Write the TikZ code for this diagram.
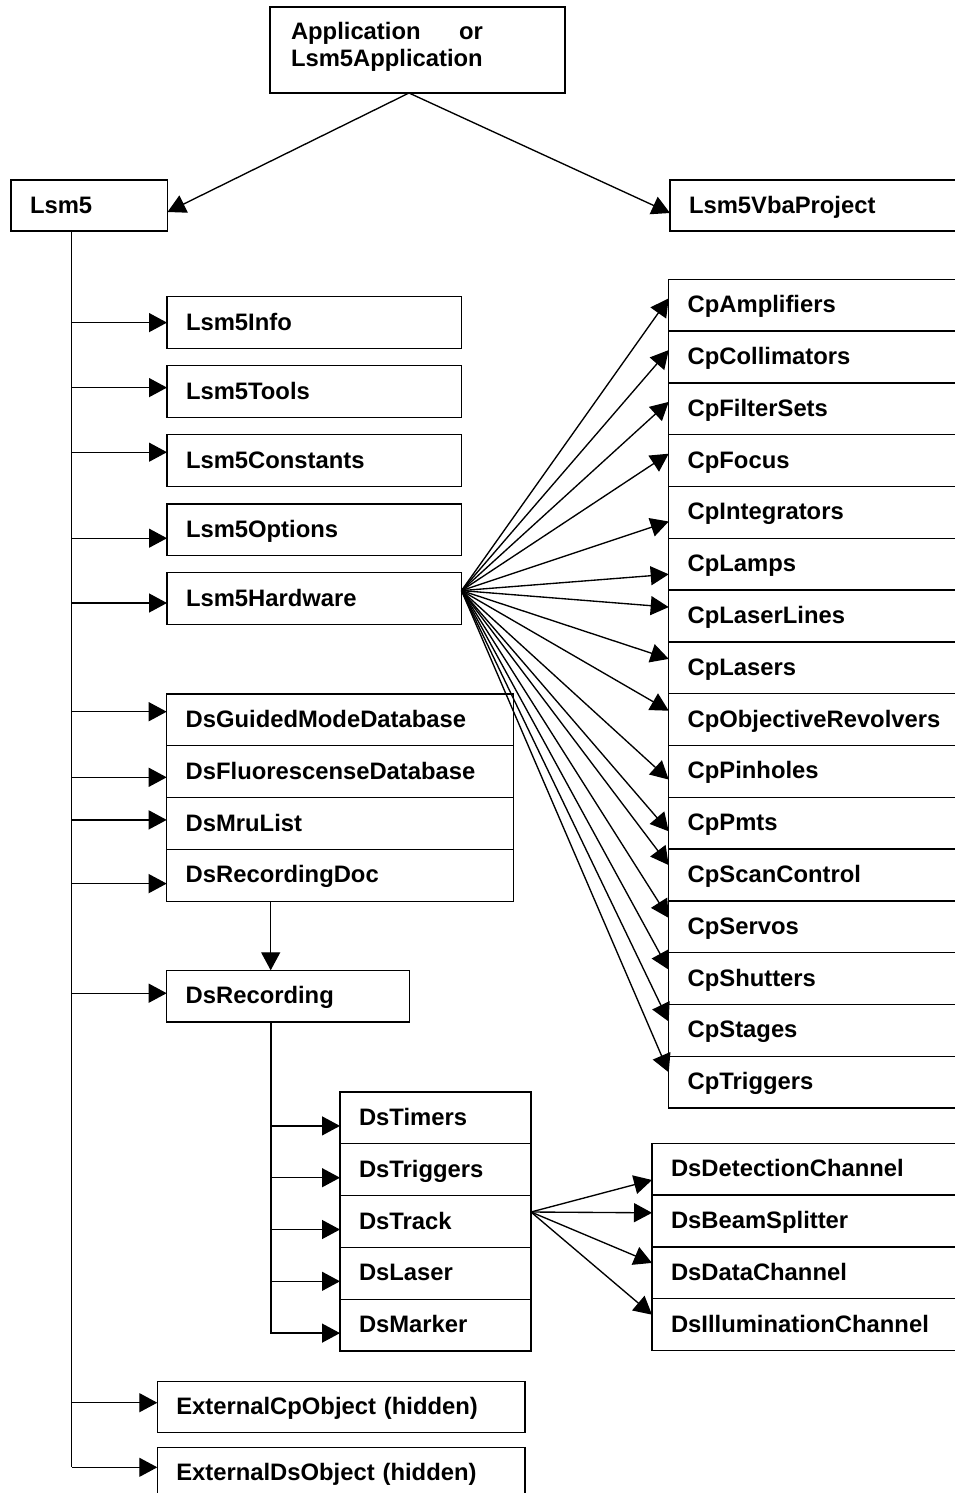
\documentclass[tikz,border=0pt]{standalone}
\usepackage{fontspec}
\setmainfont{Liberation Sans}
\usetikzlibrary{arrows.meta}
\tikzset{
  bx/.style={draw, line width=1.3pt, anchor=north west, outer sep=0pt,
    inner xsep=19pt, inner ysep=0pt, align=left, text width=#1,
    minimum height=51.8pt, text height=20pt, text depth=5pt,
    font=\fontsize{23.8}{27.5}\selectfont\bfseries},
  arr/.style={-{Triangle[length=18pt,width=19pt]}, line width=1.35pt},
  ln/.style={line width=1.35pt}
}
\begin{document}
\begin{tikzpicture}[x=1pt,y=-1pt]
\clip (0,0) rectangle (955,1493);
\fill[white] (0,0) rectangle (955,1493);
% top
\node[bx=253pt, minimum height=86pt, inner xsep=21pt, text depth=41.4pt] (app) at (270,7)
  {\makebox[192pt][s]{Application\hfill or}\\Lsm5Application};
\node[bx=118.5pt, minimum height=51pt] (lsm5) at (11,180) {Lsm5};
\node[bx=267pt, minimum height=51pt] (vba) at (670,180) {Lsm5VbaProject};
\draw[arr] ([xshift=139pt]app.south west) -- ([yshift=-6.5pt]lsm5.east);
\draw[arr] ([xshift=139pt]app.south west) -- ([yshift=-7.5pt]vba.west);
% left column
\node[bx=256.5pt] (info) at (167,296.7) {Lsm5Info};
\node[bx=256.5pt] (tools) at (167,365.7) {Lsm5Tools};
\node[bx=256.5pt] (const) at (167,434.7) {Lsm5Constants};
\node[bx=256.5pt] (opts) at (167,504) {Lsm5Options};
\node[bx=256.5pt] (hw) at (167,572.7) {Lsm5Hardware};
\node[bx=308.6pt] (gm) at (166.7,694) {DsGuidedModeDatabase};
\node[bx=308.6pt] (fl) at (166.7,745.8) {DsFluorescenseDatabase};
\node[bx=308.6pt] (mru) at (166.7,797.6) {DsMruList};
\node[bx=308.6pt] (rdoc) at (166.7,849.4) {DsRecordingDoc};
\node[bx=204.6pt] (rec) at (166.7,970.3) {DsRecording};
\node[bx=153pt] (tim) at (340,1092) {DsTimers};
\node[bx=153pt] (trg) at (340,1143.8) {DsTriggers};
\node[bx=153pt] (trk) at (340,1195.6) {DsTrack};
\node[bx=153pt] (las) at (340,1247.4) {DsLaser};
\node[bx=153pt] (mrk) at (340,1299.2) {DsMarker};
\node[bx=329.7pt, minimum height=51pt] (xcp) at (157.3,1381.7) {ExternalCpObject (hidden)};
\node[bx=329.7pt, minimum height=52pt] (xds) at (157.3,1447.3) {ExternalDsObject (hidden)};
% right Ds column
\node[bx=285pt] (det) at (652,1143.3) {DsDetectionChannel};
\node[bx=285pt] (bs) at (652,1195.1) {DsBeamSplitter};
\node[bx=285pt] (dat) at (652,1246.9) {DsDataChannel};
\node[bx=285pt] (ill) at (652,1298.7) {DsIlluminationChannel};
% Cp column
\foreach \n/\t [count=\i from 0] in {c1/CpAmplifiers,c2/CpCollimators,c3/CpFilterSets,c4/CpFocus,c5/CpIntegrators,c6/CpLamps,c7/CpLaserLines,c8/CpLasers,c9/CpObjectiveRevolvers,c10/CpPinholes,c11/CpPmts,c12/CpScanControl,c13/CpServos,c14/CpShutters,c15/CpStages,c16/CpTriggers}
  \node[bx=268pt] (\n) at (668.7,279.3+51.8*\i) {\t};
% trunk
\coordinate (tend) at (71.5,1467.3);
\draw[ln] ([xshift=60.5pt]lsm5.south west) -- (tend);
\foreach \b/\s in {info/0,tools/4,const/8.4,opts/-8.3,hw/-4.4,gm/8.2,fl/-5.6,mru/3.6,rdoc/-8.3,rec/3,xcp/4.5}{
  \coordinate (tip) at ([yshift=\s pt]\b.west);
  \draw[arr] (tend |- tip) -- (tip);
}
\draw[arr] (tend) -- (tend -| xds.west);
% DsRecordingDoc -> DsRecording
\draw[arr] ([xshift=104pt]rdoc.south west) -- ([xshift=104pt]rec.north west);
% sub trunk
\coordinate (send) at (271,1334);
\draw[ln] ([xshift=104.3pt]rec.south west) -- (send);
\foreach \b in {tim,trg,trk,las,mrk}{
  \coordinate (tip) at ([yshift=-8pt]\b.west);
  \draw[arr] (send |- tip) -- (tip);
}
% hardware fan
\coordinate (hwo) at ([yshift=8pt]hw.east);
\foreach \n/\o in {c1/19,c2/19,c3/19,c4/19,c5/35,c6/36,c7/17,c8/17,c9/17,c10/34,c11/34,c12/16,c13/17,c14/17,c15/17,c16/16}
  \draw[arr] (hwo) -- ([yshift=-\o pt]\n.north west);
% track fan
\coordinate (tro) at ([yshift=9.5pt]trk.east);
\foreach \n/\o in {det/36.7,bs/17.7,dat/16,ill/16}
  \draw[arr] (tro) -- ([yshift=-\o pt]\n.north west);
\end{tikzpicture}
\end{document}
